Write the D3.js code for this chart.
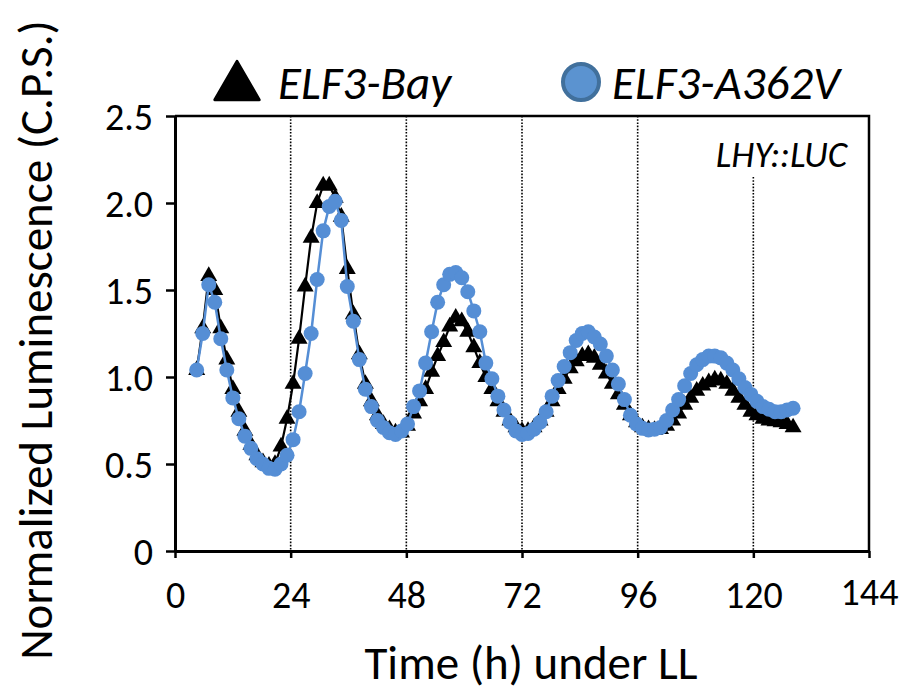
<!DOCTYPE html>
<html>
<head>
<meta charset="utf-8">
<script src="https://cdn.jsdelivr.net/npm/d3@7"></script>
<style>
  body { margin: 0; background: #fff; }
  text { font-family: Carlito, Lato, "Open Sans", sans-serif; fill: #000; }
</style>
</head>
<body>
<svg id="chart" width="907" height="695"></svg>
<script>
// sampling times (h under LL)
const hours = [4.5, 5.75, 7, 8.25, 9.5, 10.75, 12, 13.25, 14.5, 15.75, 17, 18.25, 19.5, 20.75, 22, 23.25,
  24.5, 25.75, 27, 28.25, 29.5, 30.75, 32, 33.25, 34.5, 35.75, 37, 38.25, 39.5, 40.75, 42, 43.25,
  44.5, 45.75, 47, 48.25, 49.5, 50.75, 52, 53.25, 54.5, 55.75, 57, 58.25, 59.5, 60.75, 62, 63.25,
  64.5, 65.75, 67, 68.25, 69.5, 70.75, 72, 73.25, 74.5, 75.75, 77, 78.25, 79.5, 80.75, 82, 83.25,
  84.5, 85.75, 87, 88.25, 89.5, 90.75, 92, 93.25, 94.5, 95.75, 97, 98.25, 99.5, 100.75, 102, 103.25,
  104.5, 105.75, 107, 108.25, 109.5, 110.75, 112, 113.25, 114.5, 115.75, 117, 118.25, 119.5, 120.75,
  122, 123.25, 124.5, 125.75, 127, 128.25];

const bay = [1.04, 1.28, 1.58, 1.50, 1.28, 1.10, 0.93, 0.80, 0.69, 0.61, 0.55, 0.51, 0.49, 0.50, 0.60, 0.76,
  0.96, 1.22, 1.52, 1.80, 2.00, 2.10, 2.10, 2.03, 1.92, 1.62, 1.36, 1.13, 0.96, 0.86, 0.78, 0.73,
  0.70, 0.68, 0.68, 0.72, 0.79, 0.86, 0.93, 1.03, 1.12, 1.20, 1.29, 1.34, 1.32, 1.26, 1.17, 1.08,
  1.00, 0.93, 0.86, 0.80, 0.75, 0.71, 0.69, 0.69, 0.71, 0.75, 0.80, 0.86, 0.93, 0.99, 1.05, 1.09,
  1.12, 1.13, 1.11, 1.07, 1.02, 0.96, 0.90, 0.84, 0.78, 0.74, 0.71, 0.70, 0.695, 0.70, 0.72, 0.75,
  0.79, 0.84, 0.88, 0.92, 0.95, 0.97, 0.985, 0.98, 0.96, 0.92, 0.88, 0.84, 0.80, 0.78,
  0.76, 0.75, 0.745, 0.74, 0.73, 0.71];

const a362v = [1.04, 1.25, 1.53, 1.43, 1.22, 1.04, 0.88, 0.76, 0.66, 0.59, 0.53, 0.50, 0.475, 0.47, 0.50, 0.55,
  0.64, 0.80, 1.02, 1.25, 1.56, 1.84, 1.98, 2.01, 1.90, 1.52, 1.32, 1.10, 0.93, 0.83, 0.75, 0.71,
  0.68, 0.67, 0.69, 0.73, 0.83, 0.92, 1.08, 1.26, 1.43, 1.53, 1.59, 1.60, 1.57, 1.49, 1.38, 1.26,
  1.08, 0.99, 0.89, 0.81, 0.74, 0.69, 0.67, 0.675, 0.70, 0.74, 0.80, 0.89, 0.98, 1.06, 1.14, 1.21,
  1.25, 1.26, 1.23, 1.19, 1.12, 1.04, 0.96, 0.87, 0.78, 0.73, 0.705, 0.695, 0.70, 0.71, 0.75, 0.81,
  0.87, 0.95, 1.02, 1.07, 1.10, 1.12, 1.12, 1.11, 1.08, 1.04, 0.99, 0.94, 0.90, 0.86,
  0.83, 0.815, 0.80, 0.80, 0.81, 0.82];

const xTicks = [0, 24, 48, 72, 96, 120, 144];
const yTicks = [0, 0.5, 1, 1.5, 2, 2.5];
const dayLines = [24, 48, 72, 96, 120];
const seriesNames = ["ELF3-Bay", "ELF3-A362V"];

const svg = d3.select("svg#chart");

let x = d3.scaleLinear().domain([0, 144]).range([175, 869]);
let y = d3.scaleLinear().domain([0, 2.5]).range([551, 116]);

// dotted day lines (the 120 h one stops under the label)
svg.selectAll("line.day")
  .data(dayLines)
  .enter()
  .append("line")
  .attr("class", "day")
  .attr("x1", d => x(d))
  .attr("x2", d => x(d))
  .attr("y1", d => d == 120 ? 177 : y(2.5))
  .attr("y2", y(0))
  .style("stroke", "#000")
  .style("stroke-width", 1.6)
  .style("stroke-dasharray", "1.6,1.6");

// frame: top and right sides
svg.append("path")
  .attr("d", `M${x(0)},${y(2.5)}H${x(144)}V${y(0)}`)
  .style("fill", "none")
  .style("stroke", "#000")
  .style("stroke-width", 2.5);

// axes
let xAxis = svg.append("g")
  .attr("transform", `translate(0,${y(0)})`)
  .call(d3.axisBottom(x).tickValues(xTicks).tickSize(7).tickPadding(23).tickSizeOuter(0));

let yAxis = svg.append("g")
  .attr("transform", `translate(${x(0)},0)`)
  .call(d3.axisLeft(y).tickValues(yTicks).tickSize(9).tickPadding(13).tickSizeOuter(0)
    .tickFormat(d => d == 0 ? "0" : d3.format(".1f")(d)));

[xAxis, yAxis].forEach(g => {
  g.select(".domain").style("stroke", "#000").style("stroke-width", 3);
  g.selectAll(".tick line").style("stroke", "#000").style("stroke-width", 2.5);
  g.selectAll(".tick text").style("font-size", "38px").style("font-family", "Carlito, Lato, sans-serif");
});
yAxis.selectAll(".tick text").attr("dy", "0.36em");
xAxis.selectAll(".tick text").attr("dy", "0.72em");
// the last x label sits a little higher in the original
xAxis.selectAll(".tick text").filter(d => d == 144).attr("dy", "0.62em");

// series lines + markers
let line = d3.line().x(d => x(d[0])).y(d => y(d[1]));
let bayPts = hours.map((h, i) => [h, bay[i]]);
let a362vPts = hours.map((h, i) => [h, a362v[i]]);

svg.append("path")
  .datum(bayPts)
  .attr("d", line)
  .style("fill", "none")
  .style("stroke", "#000")
  .style("stroke-width", 2.2);

svg.selectAll("path.tri")
  .data(bayPts)
  .enter()
  .append("path")
  .attr("class", "tri")
  .attr("d", d3.symbol(d3.symbolTriangle, 125))
  .attr("transform", d => `translate(${x(d[0])},${y(d[1])})`)
  .style("fill", "#000");

svg.append("path")
  .datum(a362vPts)
  .attr("d", line)
  .style("fill", "none")
  .style("stroke", "#558ed5")
  .style("stroke-width", 2.5);

svg.selectAll("circle.dot")
  .data(a362vPts)
  .enter()
  .append("circle")
  .attr("class", "dot")
  .attr("cx", d => x(d[0]))
  .attr("cy", d => y(d[1]))
  .attr("r", 7.5)
  .style("fill", "#558ed5");

// legend
svg.append("path")
  .attr("d", d3.symbol(d3.symbolTriangle, 850))
  .attr("transform", "translate(237,87)")
  .style("fill", "#000")
  .style("stroke", "#000")
  .style("stroke-width", 3)
  .style("stroke-linejoin", "round");

svg.append("text")
  .attr("x", 278)
  .attr("y", 99)
  .style("font-size", "47px")
  .style("font-style", "italic")
  .text(seriesNames[0]);

svg.append("circle")
  .attr("cx", 581)
  .attr("cy", 82)
  .attr("r", 18)
  .style("fill", "#5b93d0")
  .style("stroke", "#41709c")
  .style("stroke-width", 4);

svg.append("text")
  .attr("x", 612)
  .attr("y", 99)
  .style("font-size", "47px")
  .style("font-style", "italic")
  .text(seriesNames[1]);

svg.append("text")
  .attr("x", 847)
  .attr("y", 167)
  .attr("text-anchor", "end")
  .style("font-size", "37px")
  .style("font-style", "italic")
  .text("LHY::LUC");

// axis titles
svg.append("text")
  .attr("x", 531)
  .attr("y", 679)
  .attr("text-anchor", "middle")
  .style("font-size", "47px")
  .text("Time (h) under LL");

svg.append("text")
  .attr("transform", "translate(52,340) rotate(-90)")
  .attr("text-anchor", "middle")
  .style("font-size", "47px")
  .text("Normalized Luminescence (C.P.S.)");
</script>
</body>
</html>
